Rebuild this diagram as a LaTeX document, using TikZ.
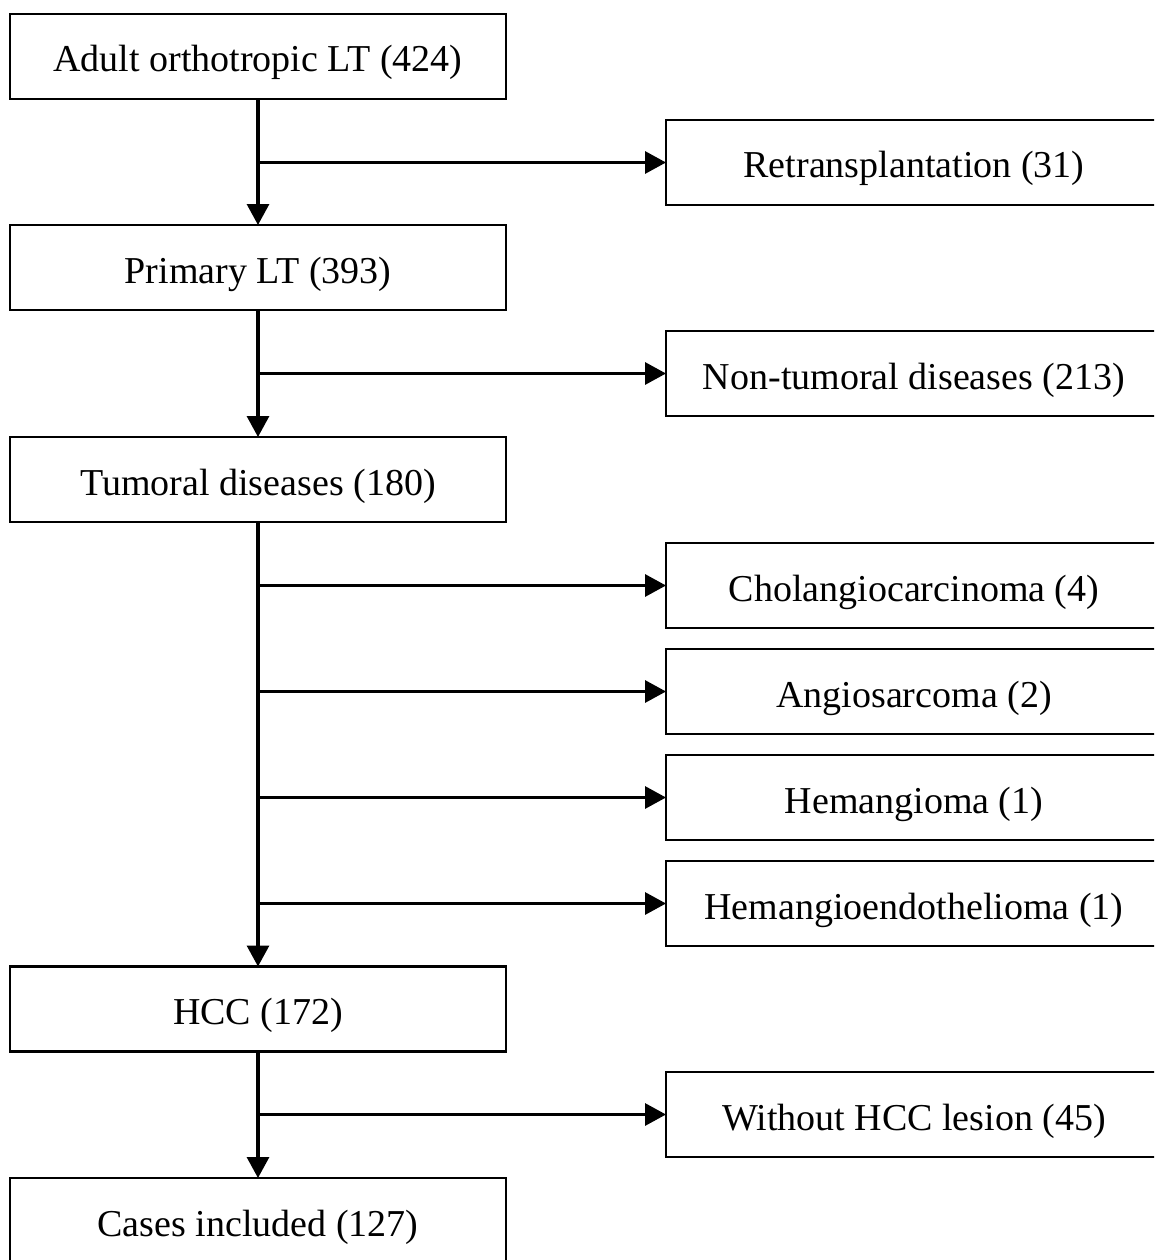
\documentclass[tikz,border=0pt]{standalone}
\usepackage{fontspec}
\setmainfont{Liberation Serif}
\usetikzlibrary{arrows.meta}
\begin{document}
\begin{tikzpicture}[x=1pt,y=-1pt,
  box/.style={draw,line width=2.6pt,minimum width=496pt,minimum height=85pt,inner sep=0pt,outer sep=0pt,text height=31pt,text depth=0pt,font=\fontsize{38}{44}\selectfont},
  conn/.style={line width=3.2pt,-{Triangle[length=21pt,width=22pt]}}]
\clip (0,0) rectangle (1154,1260);
\fill[white] (0,0) rectangle (1154,1260);
\node[box] (a) at (258,56.5) {Adult orthotropic LT (424)};
\node[box] (b) at (258,267.5) {Primary LT (393)};
\node[box] (c) at (258,479.5) {Tumoral diseases (180)};
\node[box] (d) at (258,1009) {HCC (172)};
\node[box] (e) at (258,1220.5) {Cases included (127)};
\node[box] (r1) at (914,162.5) {Retransplantation (31)};
\node[box] (r2) at (914,373.5) {Non-tumoral diseases (213)};
\node[box] (r3) at (914,585.5) {Cholangiocarcinoma (4)};
\node[box] (r4) at (914,691.5) {Angiosarcoma (2)};
\node[box] (r5) at (914,797.5) {Hemangioma (1)};
\node[box] (r6) at (914,903.5) {Hemangioendothelioma (1)};
\node[box] (r7) at (914,1114.5) {Without HCC lesion (45)};
\draw[conn] (a) -- (b);
\draw[conn] (b) -- (c);
\draw[conn] (c) -- (d);
\draw[conn] (d) -- (e);
\coordinate (j1) at (a.south |- r1.west);
\coordinate (j2) at (b.south |- r2.west);
\coordinate (j3) at (c.south |- r3.west);
\coordinate (j4) at (c.south |- r4.west);
\coordinate (j5) at (c.south |- r5.west);
\coordinate (j6) at (c.south |- r6.west);
\coordinate (j7) at (d.south |- r7.west);
\foreach \i in {1,...,7}{\draw[conn] (j\i) -- (r\i);}
\end{tikzpicture}
\end{document}
